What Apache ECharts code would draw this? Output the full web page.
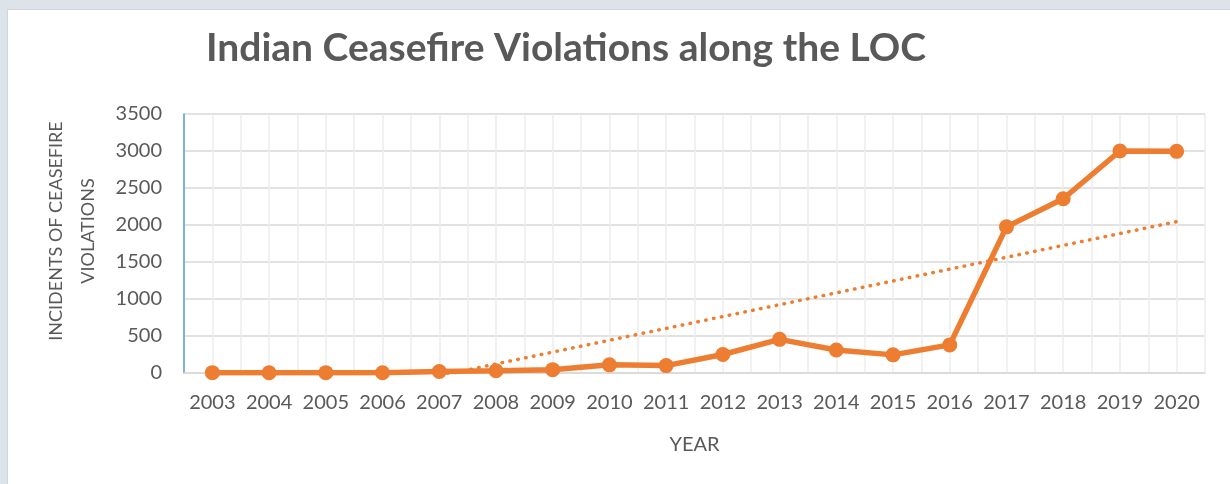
<!DOCTYPE html>
<html>
<head>
<meta charset="utf-8">
<script src="https://cdn.jsdelivr.net/npm/echarts@6/dist/echarts.min.js"></script>
<style>
  html, body { margin: 0; padding: 0; width: 1230px; height: 484px; background: #dce3ea; overflow: hidden; }
  #panel { position: absolute; left: 7px; top: 9px; width: 1223px; height: 475px; background: #ffffff; border-left: 1px solid #cfd6dc; border-top: 1px solid #cfd6dc; }
  #chart { position: absolute; left: 0; top: 0; width: 1230px; height: 484px; }
</style>
</head>
<body>
<div id="panel"></div>
<div id="chart"></div>
<script>
const years = ['2003','2004','2005','2006','2007','2008','2009','2010','2011','2012','2013','2014','2015','2016','2017','2018','2019','2020'];
const violations = [5, 3, 5, 3, 20, 30, 45, 110, 100, 250, 455, 310, 245, 380, 1975, 2355, 3000, 2995];
const yTicks = [0, 500, 1000, 1500, 2000, 2500, 3000, 3500];

// Linear trendline (least squares) computed from the series
function linearTrend(vals) {
  const n = vals.length;
  let sx = 0, sy = 0, sxx = 0, sxy = 0;
  vals.forEach((v, i) => { sx += i; sy += v; sxx += i * i; sxy += i * v; });
  const slope = (n * sxy - sx * sy) / (n * sxx - sx * sx);
  const icpt = (sy - slope * sx) / n;
  return vals.map((_, i) => icpt + slope * i);
}
const trend = linearTrend(violations);

const FONT = 'Lato, "Open Sans", sans-serif';
const TXT = '#595959';
const ORANGE = '#ED7D31';

const chart = echarts.init(document.getElementById('chart'), null, { renderer: 'canvas' });
chart.setOption({
  backgroundColor: 'transparent',
  animation: false,
  title: {
    text: 'Indian Ceasefire Violations along the LOC',
    left: 201, top: 24,
    textStyle: { fontFamily: FONT, fontWeight: 'bold', fontSize: 39, color: TXT }
  },
  graphic: [{
    type: 'text',
    x: 72, y: 231,
    rotation: Math.PI / 2,
    style: {
      text: 'INCIDENTS OF CEASEFIRE\nVIOLATIONS',
      fontFamily: FONT, fontSize: 18, fill: TXT,
      align: 'center', verticalAlign: 'middle', lineHeight: 32
    }
  }],
  grid: { left: 184, right: 25, top: 114, bottom: 111, containLabel: false },
  xAxis: [{
    type: 'category',
    data: years,
    boundaryGap: true,
    axisLine: { show: true, lineStyle: { color: '#d9d9d9', width: 1.5 } },
    axisTick: { show: false },
    splitLine: { show: false },
    axisLabel: { fontFamily: FONT, fontSize: 20, color: TXT, margin: 20, interval: 0 },
    name: 'YEAR',
    nameLocation: 'middle',
    nameGap: 62,
    nameTextStyle: { fontFamily: FONT, fontSize: 20, color: TXT }
  }, {
    type: 'value',
    min: 0, max: years.length * 2, interval: 1,
    position: 'top',
    axisLine: { show: false },
    axisTick: { show: false },
    axisLabel: { show: false },
    splitLine: { show: true, lineStyle: { color: '#ececec', width: 1.5 } }
  }],
  yAxis: {
    type: 'value',
    min: yTicks[0], max: yTicks[yTicks.length - 1], interval: 500,
    axisLine: { show: true, lineStyle: { color: '#5b9bd5', width: 1.5 } },
    axisTick: { show: false },
    axisLabel: { fontFamily: FONT, fontSize: 20, color: TXT, margin: 22, formatter: v => String(v) },
    splitLine: { show: true, lineStyle: { color: '#d9d9d9', width: 1.5 } }
  },
  series: [{
    name: 'Violations',
    type: 'line',
    xAxisIndex: 0,
    data: violations,
    symbol: 'circle',
    symbolSize: 15,
    itemStyle: { color: ORANGE },
    lineStyle: { color: ORANGE, width: 5.5 },
    z: 3
  }, {
    name: 'Linear trend',
    type: 'line',
    xAxisIndex: 0,
    data: trend,
    symbol: 'none',
    clip: true,
    lineStyle: { color: ORANGE, width: 3.5, type: [0.5, 7.5], cap: 'round' },
    z: 4
  }]
});
</script>
</body>
</html>
